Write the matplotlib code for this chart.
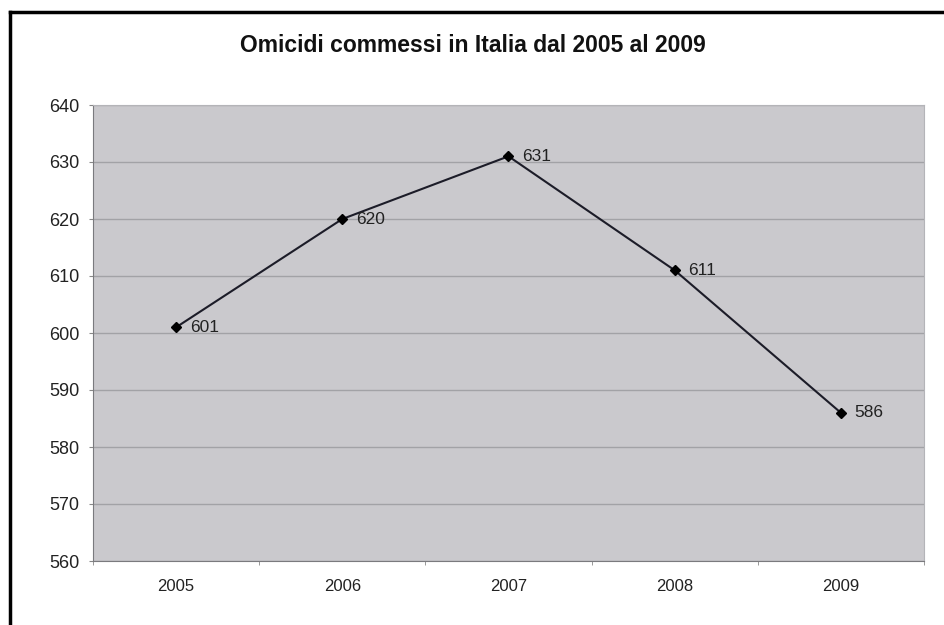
import matplotlib
matplotlib.use('Agg')
from matplotlib import pyplot as plt
from matplotlib.lines import Line2D

plt.rcParams['font.family'] = ['Liberation Sans', 'DejaVu Sans']

years = ['2005', '2006', '2007', '2008', '2009']
omicidi = [601, 620, 631, 611, 586]
y_ticks = [560, 570, 580, 590, 600, 610, 620, 630, 640]

fig = plt.figure(figsize=(9.45, 6.25), dpi=100)
fig.patch.set_facecolor('white')
ax = fig.add_axes([93/945, 1-561/625, (924-93)/945, (561-105)/625])
ax.set_facecolor('#cac9cd')

x = list(range(len(years)))
ax.plot(x, omicidi, color='#1c1c28', linewidth=1.5, marker='D', markersize=5.5,
        markerfacecolor='black', markeredgecolor='black', zorder=3)
for xi, v in zip(x, omicidi):
    ax.annotate(str(v), (xi, v), xytext=(10, 0), textcoords='offset points',
                va='center', ha='left', fontsize=12.5, color='#222222')

ax.set_xlim(-0.5, len(years) - 0.5)
ax.set_ylim(560, 640)
ax.set_yticks(y_ticks)
ax.set_xticks(x)
ax.set_xticklabels(years)
ax.set_xticks([i + 0.5 for i in range(-1, len(years))], minor=True)
ax.tick_params(axis='x', which='major', length=0, pad=13, labelsize=12, colors='#222222')
ax.tick_params(axis='x', which='minor', length=3, color='#888888')
ax.tick_params(axis='y', length=3, color='#888888', pad=7, labelsize=13, labelcolor='#222222')
ax.grid(axis='y', color='#a2a2a6', linewidth=1)
ax.set_axisbelow(True)
for s in ['left', 'bottom']:
    ax.spines[s].set_color('#7a7a7e')
for s in ['top', 'right']:
    ax.spines[s].set_color('#b4b4b8')

fig.text(0.5, 1 - 46/625, 'Omicidi commessi in Italia dal 2005 al 2009',
         ha='center', va='center', fontsize=16.5, fontweight='bold', color='#111111')

# bordo del grafico (sinistra e sopra)
fig.add_artist(Line2D([10/945, 10/945], [0, 1 - 12/625], color='black', linewidth=2.5,
                      transform=fig.transFigure))
fig.add_artist(Line2D([10/945, 1], [1 - 12/625, 1 - 12/625], color='black', linewidth=2.5,
                      transform=fig.transFigure))

fig.savefig('out.png', dpi=100)
